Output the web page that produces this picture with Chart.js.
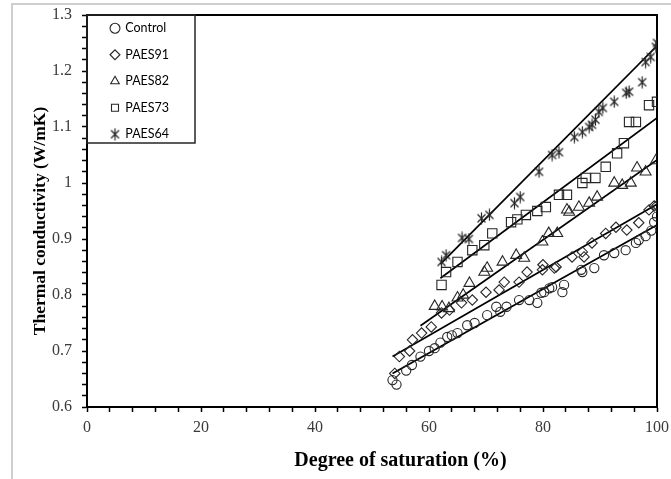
<!DOCTYPE html>
<html><head><meta charset="utf-8">
<script src="https://cdn.jsdelivr.net/npm/chart.js@4.4.1/dist/chart.umd.min.js"></script>
<style>
html,body{margin:0;padding:0;background:#fff;}
#wrap{position:relative;width:671px;height:479px;overflow:hidden;background:#fff;}
canvas{position:absolute;left:0;top:0;}
</style></head><body>
<div id="wrap"><canvas id="c" width="671" height="479"></canvas></div>
<script>
// ---- data ----
const seriesNames = ['Control', 'PAES91', 'PAES82', 'PAES73', 'PAES64'];
const xTickLabels = ['0', '20', '40', '60', '80', '100'];
const yTickLabels = ['0.6', '0.7', '0.8', '0.9', '1', '1.1', '1.2', '1.3'];
const xTitle = 'Degree of saturation (%)';
const yTitle = 'Thermal conductivity (W/mK)';

const controlSat = [53.6, 54.3, 56.0, 57.0, 58.5, 60.0, 61.0, 62.0, 63.2, 64.0, 65.0, 66.7, 68.0, 70.2, 71.8, 72.5, 73.6, 75.8, 77.6, 79.0, 79.7, 80.2, 81.1, 81.6, 83.4, 83.7, 86.7, 86.9, 89.0, 90.7, 92.5, 94.5, 96.3, 96.8, 98.0, 99.0, 99.5, 100];
const controlK   = [0.648, 0.640, 0.665, 0.675, 0.690, 0.700, 0.705, 0.715, 0.725, 0.728, 0.732, 0.746, 0.750, 0.764, 0.779, 0.770, 0.779, 0.791, 0.791, 0.786, 0.804, 0.805, 0.812, 0.814, 0.805, 0.818, 0.845, 0.841, 0.848, 0.871, 0.875, 0.880, 0.893, 0.898, 0.905, 0.915, 0.930, 0.940];

const paes91Sat = [54.0, 54.8, 56.6, 57.1, 58.7, 60.4, 62.2, 63.6, 65.7, 67.6, 70.0, 72.3, 73.2, 75.8, 77.2, 79.9, 80.0, 82.0, 82.3, 85.1, 86.9, 87.2, 88.6, 91.0, 92.8, 94.7, 96.8, 98.6, 99.5, 100];
const paes91K   = [0.660, 0.690, 0.700, 0.720, 0.732, 0.743, 0.768, 0.773, 0.786, 0.791, 0.805, 0.809, 0.823, 0.823, 0.841, 0.845, 0.854, 0.848, 0.850, 0.868, 0.877, 0.868, 0.893, 0.910, 0.921, 0.916, 0.929, 0.952, 0.959, 0.960];

const paes82Sat = [61.0, 62.3, 63.5, 65.0, 66.0, 67.1, 69.7, 70.2, 72.9, 75.3, 76.7, 79.9, 81.0, 82.5, 84.2, 84.6, 86.3, 88.1, 89.5, 92.5, 93.9, 95.4, 96.5, 98.0, 99.8];
const paes82K   = [0.780, 0.779, 0.776, 0.795, 0.800, 0.821, 0.841, 0.848, 0.859, 0.871, 0.866, 0.895, 0.910, 0.910, 0.952, 0.948, 0.957, 0.964, 0.975, 1.000, 0.996, 1.000, 1.027, 1.020, 1.040];

const paes73Sat = [62.2, 63.0, 65.0, 67.6, 69.7, 71.1, 74.4, 75.5, 77.0, 79.0, 80.5, 82.8, 84.2, 86.9, 87.5, 89.2, 91.0, 93.0, 94.2, 95.1, 96.3, 98.6, 100];
const paes73K   = [0.818, 0.841, 0.859, 0.880, 0.889, 0.910, 0.930, 0.935, 0.943, 0.950, 0.957, 0.979, 0.979, 1.000, 1.009, 1.009, 1.029, 1.053, 1.071, 1.109, 1.109, 1.139, 1.145];

const paes64Sat = [62.2, 63.0, 65.8, 67.0, 69.2, 70.6, 75.0, 76.0, 79.3, 81.6, 82.8, 85.5, 86.9, 88.1, 88.6, 89.2, 89.8, 90.5, 92.5, 94.6, 95.1, 97.4, 98.0, 98.9, 99.8, 100];
const paes64K   = [0.859, 0.871, 0.902, 0.900, 0.937, 0.943, 0.964, 0.975, 1.020, 1.050, 1.055, 1.082, 1.091, 1.100, 1.104, 1.113, 1.127, 1.134, 1.145, 1.161, 1.163, 1.180, 1.216, 1.225, 1.243, 1.250];

// fitted trend lines: [start, end] as [saturation, conductivity]
const controlFit = [[53.6, 0.660], [100, 0.925]];
const paes91Fit  = [[53.6, 0.690], [100, 0.962]];
const paes82Fit  = [[58.5, 0.745], [100, 1.041]];
const paes73Fit  = [[62.0, 0.830], [100, 1.116]];
const paes64Fit  = [[62.0, 0.855], [100, 1.245]];

// ---- styling / construction ----
const INK = '#262626';
function starMarker() {
  const c = document.createElement('canvas');
  c.width = 13; c.height = 13;
  const g = c.getContext('2d');
  g.strokeStyle = INK; g.lineWidth = 1.2;
  g.beginPath();
  g.moveTo(2.5, 2.5); g.lineTo(10.5, 10.5);
  g.moveTo(10.5, 2.5); g.lineTo(2.5, 10.5);
  g.moveTo(6.5, 0.5); g.lineTo(6.5, 12.5);
  g.stroke();
  return c;
}
const star = starMarker();

function pts(xs, ys) { return xs.map((x, i) => ({x: x, y: ys[i]})); }
function fitPts(f) { return f.map(p => ({x: p[0], y: p[1]})); }

function scatterSet(label, xs, ys, style, radius) {
  return {
    label: label, data: pts(xs, ys), showLine: false,
    pointStyle: style, pointRadius: radius, pointHoverRadius: radius,
    borderColor: INK, pointBorderColor: INK, borderWidth: 1.1, pointBorderWidth: 1.1,
    backgroundColor: 'rgba(0,0,0,0)', pointBackgroundColor: 'rgba(0,0,0,0)'
  };
}
function fitSet(f) {
  return {
    label: 'fit', isTrend: true, data: fitPts(f), showLine: true,
    pointRadius: 0, borderColor: '#000', borderWidth: 1.7, fill: false
  };
}

const datasets = [
  scatterSet(seriesNames[0], controlSat, controlK, 'circle', 4.6),
  scatterSet(seriesNames[1], paes91Sat, paes91K, 'rectRot', 5.2),
  scatterSet(seriesNames[2], paes82Sat, paes82K, 'triangle', 6.3),
  scatterSet(seriesNames[3], paes73Sat, paes73K, 'rect', 6.6),
  scatterSet(seriesNames[4], paes64Sat, paes64K, star, 6),
  fitSet(controlFit), fitSet(paes91Fit), fitSet(paes82Fit), fitSet(paes73Fit), fitSet(paes64Fit)
];

const serif = '"Liberation Serif", "Times New Roman", serif';

const framePlugin = {
  id: 'framePlugin',
  beforeDraw(chart) {
    const ctx = chart.ctx;
    ctx.save();
    ctx.strokeStyle = '#cfcfcf'; ctx.lineWidth = 2;
    ctx.beginPath();
    ctx.moveTo(12, chart.height); ctx.lineTo(12, 4); ctx.lineTo(chart.width, 4);
    ctx.stroke();
    ctx.restore();
  },
  afterLayout(chart) {
    const lg = chart.legend, ca = chart.chartArea;
    if (!lg) return;
    lg.left = ca.left + 10;
    lg.top = ca.top - 7;
    lg.right = lg.left + lg.width;
    lg.bottom = lg.top + 300;
  },
  beforeDatasetsDraw(chart) {
    const {ctx, chartArea: ca} = chart;
    ctx.save();
    ctx.strokeStyle = '#000'; ctx.lineWidth = 2;
    ctx.beginPath();
    ctx.moveTo(ca.left, ca.top); ctx.lineTo(ca.right, ca.top); ctx.lineTo(ca.right, ca.bottom);
    ctx.stroke();
    ctx.restore();
  },
  afterDraw(chart) {
    const {ctx, chartArea: ca} = chart;
    ctx.save();
    // legend frame
    ctx.strokeStyle = INK; ctx.lineWidth = 1.5;
    ctx.strokeRect(ca.left, ca.top, 108, 128);
    // axis titles
    ctx.fillStyle = '#000';
    ctx.textAlign = 'center'; ctx.textBaseline = 'middle';
    ctx.font = 'bold 20px ' + serif;
    ctx.fillText(xTitle, ca.left + ca.width * 0.55, 461);
    ctx.font = 'bold 17.5px ' + serif;
    ctx.translate(40, (ca.top + ca.bottom) / 2 + 10);
    ctx.rotate(-Math.PI / 2);
    ctx.fillText(yTitle, 0, 0);
    ctx.restore();
  }
};

new Chart(document.getElementById('c'), {
  type: 'scatter',
  data: {datasets: datasets},
  options: {
    responsive: false, animation: false, devicePixelRatio: 1,
    layout: {padding: {left: 0, top: 15, right: 14, bottom: 0}},
    plugins: {
      tooltip: {enabled: false},
      legend: {
        position: 'chartArea', align: 'start',
        labels: {
          usePointStyle: true, boxWidth: 8, boxHeight: 7, padding: 14,
          color: '#000', font: {family: 'Lato, "Open Sans", sans-serif', size: 12.5},
          filter: (item, data) => !data.datasets[item.datasetIndex].isTrend
        }
      }
    },
    scales: {
      x: {
        type: 'linear', min: 0, max: 100,
        afterFit(s) { s.height = 72; s.paddingLeft = 0; s.paddingRight = 0; },
        ticks: {
          stepSize: 4, autoSkip: false, maxRotation: 0, padding: 6,
          color: '#3a3a3a', font: {family: serif, size: 16},
          callback: v => { const t = String(Math.round(v * 100) / 100); return xTickLabels.includes(t) ? t : ''; }
        },
        grid: {display: true, drawOnChartArea: false, drawTicks: true, tickLength: 5, tickColor: '#000', tickWidth: 1.5},
        border: {display: true, color: '#000', width: 2}
      },
      y: {
        type: 'linear', min: 0.6, max: 1.3,
        afterFit(s) { s.width = 87; s.paddingTop = 0; s.paddingBottom = 0; },
        ticks: {
          stepSize: 0.02, autoSkip: false, padding: 10,
          color: '#3a3a3a', font: {family: serif, size: 16},
          callback: v => { const t = String(Math.round(v * 100) / 100); return yTickLabels.includes(t) ? t : ''; }
        },
        grid: {display: true, drawOnChartArea: false, drawTicks: true, tickLength: 5, tickColor: '#000', tickWidth: 1.5},
        border: {display: true, color: '#000', width: 2}
      }
    }
  },
  plugins: [framePlugin]
});
</script>
</body></html>
